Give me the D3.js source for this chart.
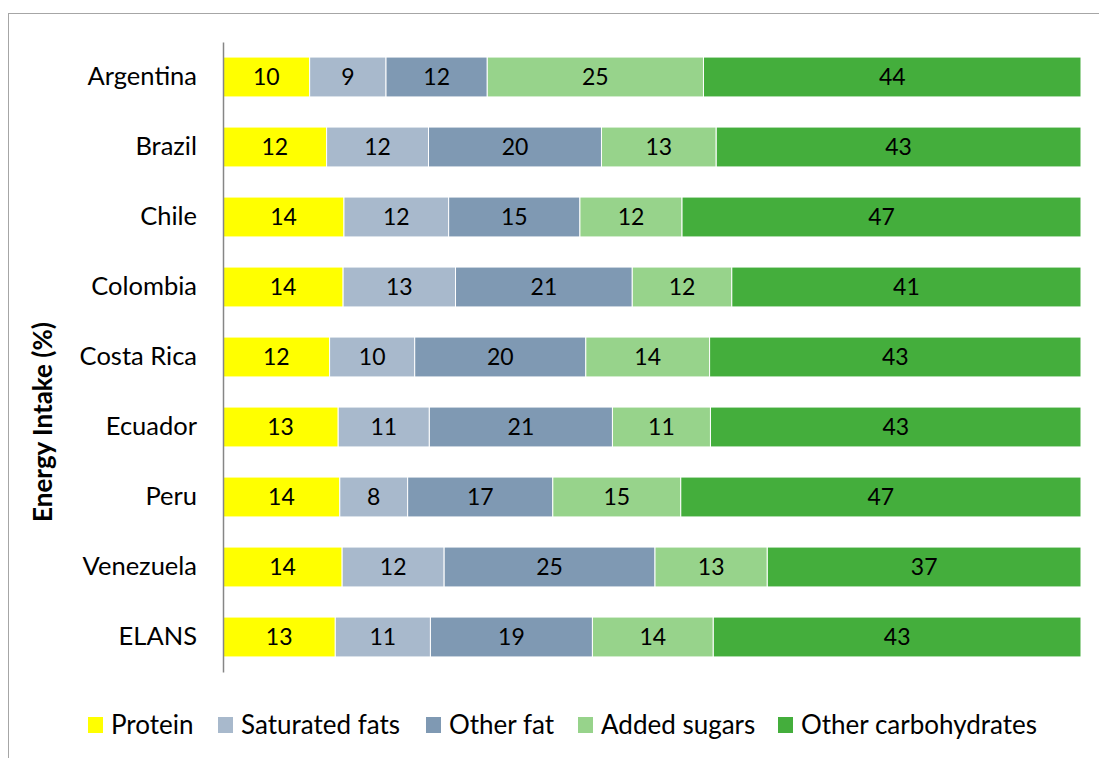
<!DOCTYPE html>
<html>
<head>
<meta charset="utf-8">
<script src="https://cdn.jsdelivr.net/npm/d3@7"></script>
<style>
  body { margin: 0; background: #fff; }
  svg { display: block; font-family: Lato, "Open Sans", sans-serif; }
</style>
</head>
<body>
<div id="chart"></div>
<script>
// countries top to bottom
var countries = ["Argentina", "Brazil", "Chile", "Colombia", "Costa Rica", "Ecuador", "Peru", "Venezuela", "ELANS"];
var nutrients = ["Protein", "Saturated fats", "Other fat", "Added sugars", "Other carbohydrates"];
var colors = ["#ffff00", "#a8b9cc", "#7f99b3", "#97d38b", "#44ae3c"];

// % of energy intake, per country, same order as countries
var protein      = [10.1, 12.1, 14.1, 14.0, 12.4, 13.4, 13.6, 13.9, 13.1];
var saturatedFat = [8.9, 11.9, 12.2, 13.1, 9.9, 10.6, 7.9, 11.9, 11.1];
var otherFat     = [11.8, 20.2, 15.3, 20.6, 19.9, 21.3, 16.9, 24.6, 18.9];
var addedSugars  = [25.2, 13.4, 11.9, 11.6, 14.4, 11.4, 14.9, 13.1, 14.1];
var otherCarbs   = [44.0, 42.6, 46.5, 40.7, 43.2, 43.1, 46.6, 36.6, 42.9];

var width = 1099, height = 758;
var margin = { top: 42, right: 18, bottom: 86, left: 223 };

var rows = countries.map(function(c, i) {
    return {
        country: c,
        "Protein": protein[i],
        "Saturated fats": saturatedFat[i],
        "Other fat": otherFat[i],
        "Added sugars": addedSugars[i],
        "Other carbohydrates": otherCarbs[i]
    };
});

var series = d3.stack()
    .keys(nutrients)
    .offset(d3.stackOffsetExpand)(rows);

var svg = d3.select("#chart").append("svg")
    .attr("width", width)
    .attr("height", height);

// chart frame
svg.append("rect")
    .attr("x", 8.5).attr("y", 13.5)
    .attr("width", width + 10).attr("height", height + 10)
    .attr("fill", "none")
    .attr("stroke", "#a6a6a6");

var x = d3.scaleLinear()
    .domain([0, 1])
    .range([margin.left, width - margin.right]);

var y = d3.scaleBand()
    .domain(countries)
    .range([margin.top, height - margin.bottom])
    .paddingInner(0.43)
    .paddingOuter(0.215);

var color = d3.scaleOrdinal().domain(nutrients).range(colors);

var groups = svg.selectAll("g.layer")
    .data(series)
    .enter().append("g")
    .attr("class", "layer")
    .attr("fill", function(d) { return color(d.key); });

groups.selectAll("rect")
    .data(function(d) { return d; })
    .enter().append("rect")
    .attr("x", function(d) { return x(d[0]); })
    .attr("y", function(d) { return y(d.data.country); })
    .attr("width", function(d) { return x(d[1]) - x(d[0]); })
    .attr("height", y.bandwidth())
    .attr("stroke", "#fff")
    .attr("stroke-width", 1);

groups.selectAll("text")
    .data(function(d) { return d.map(function(v) { return { v: v, key: d.key }; }); })
    .enter().append("text")
    .attr("x", function(d) { return (x(d.v[0]) + x(d.v[1])) / 2; })
    .attr("y", function(d) { return y(d.v.data.country) + y.bandwidth() / 2; })
    .attr("dy", "0.36em")
    .attr("text-anchor", "middle")
    .attr("fill", "#000")
    .style("font-size", "23px")
    .text(function(d) { return d3.format(".0f")(d.v.data[d.key]); });

// y axis
var yAxis = svg.append("g")
    .attr("transform", "translate(" + margin.left + ",0)")
    .call(d3.axisLeft(y).tickSize(0).tickPadding(26));
yAxis.select(".domain").attr("stroke", "#868686").attr("stroke-width", 1.5);
yAxis.selectAll("text")
    .style("font-family", "Lato, sans-serif")
    .style("font-size", "25.5px")
    .attr("fill", "#000");

svg.append("text")
    .attr("transform", "translate(52,422) rotate(-90)")
    .attr("text-anchor", "middle")
    .style("font-size", "26px")
    .style("font-weight", "bold")
    .text("Energy Intake (%)");

// legend
var legendX = [88, 218, 426, 578, 778];
var legend = svg.selectAll("g.legend")
    .data(nutrients)
    .enter().append("g")
    .attr("class", "legend")
    .attr("transform", function(d, i) { return "translate(" + legendX[i] + ",725)"; });

legend.append("rect")
    .attr("y", -8)
    .attr("width", 15).attr("height", 16)
    .attr("fill", function(d) { return color(d); });

legend.append("text")
    .attr("x", 23)
    .attr("dy", "0.36em")
    .style("font-size", "26px")
    .text(function(d) { return d; });
</script>
</body>
</html>
